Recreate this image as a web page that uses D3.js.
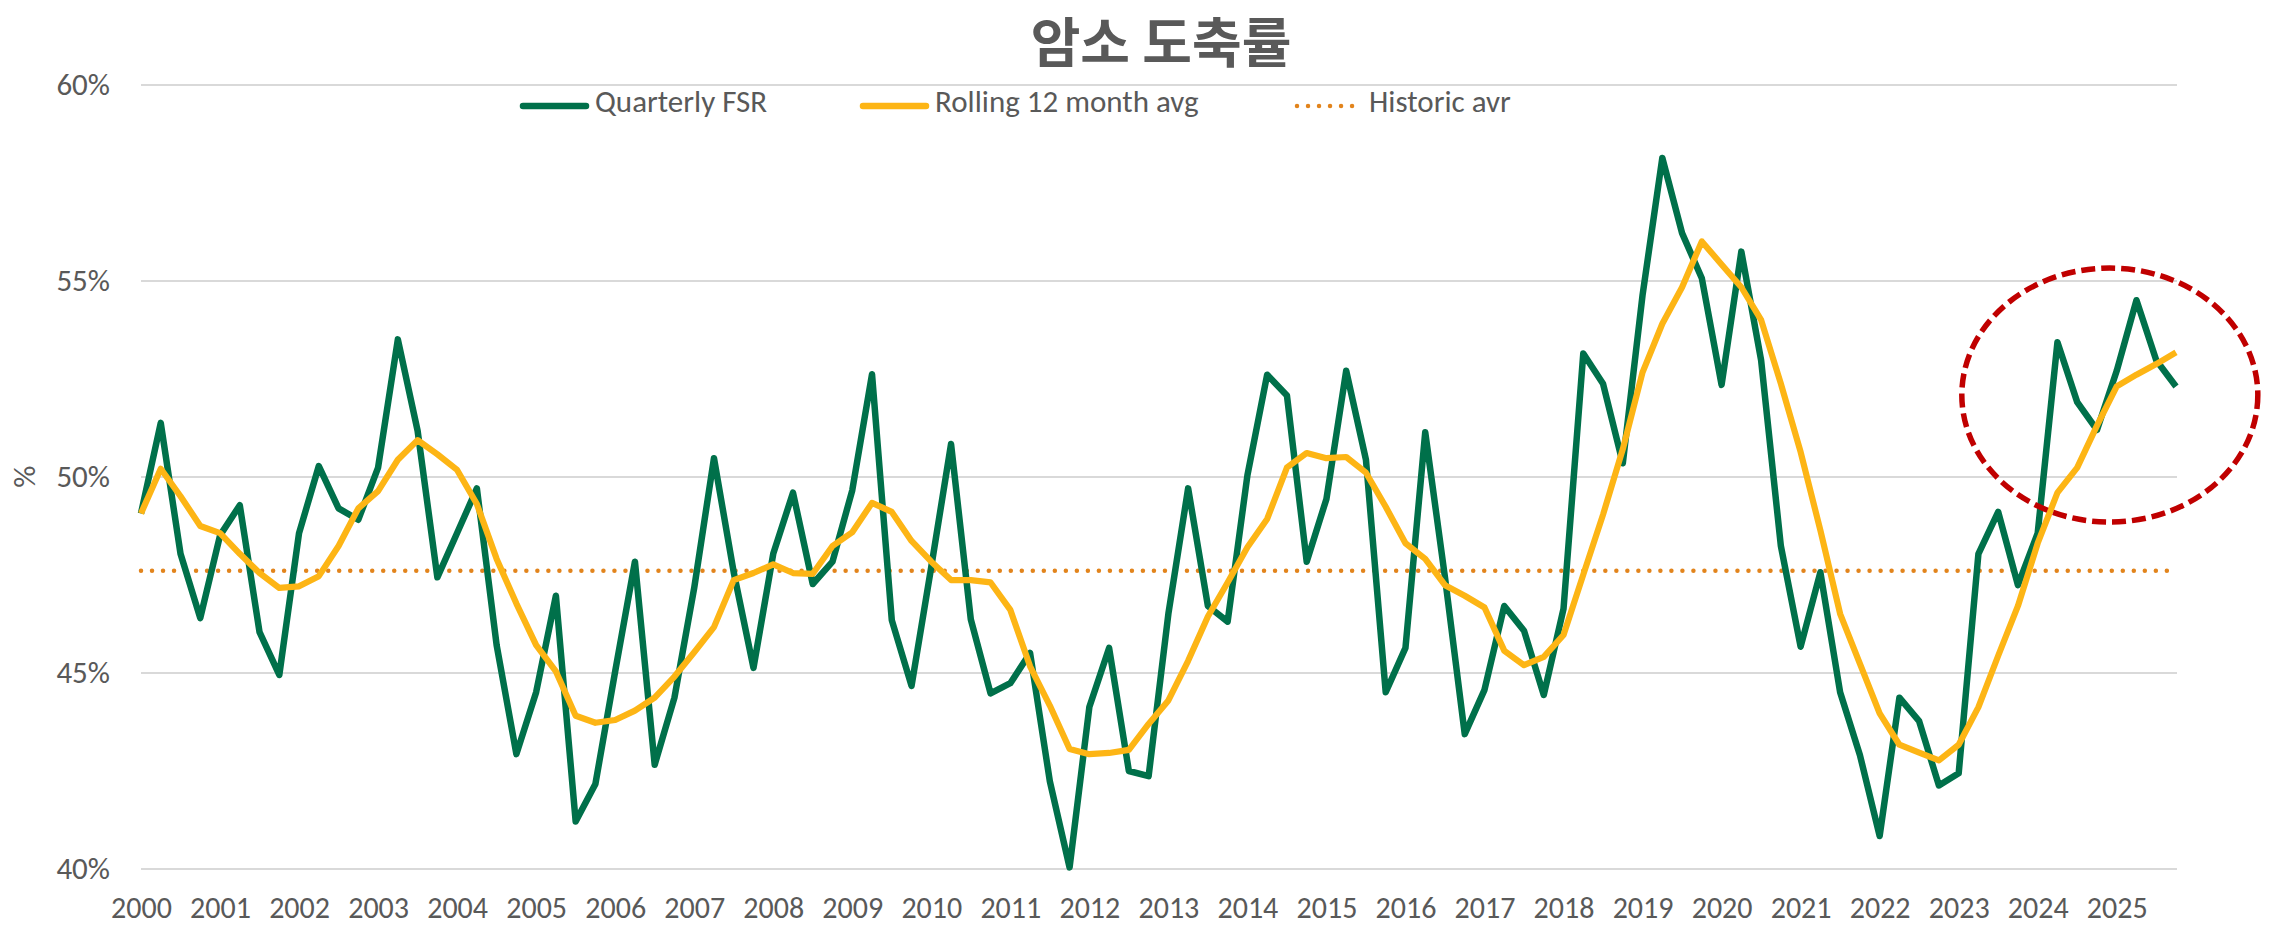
<!DOCTYPE html>
<html>
<head>
<meta charset="utf-8">
<script src="https://cdn.jsdelivr.net/npm/d3@7"></script>
<style>
  body { margin: 0; background: #fff; }
  .chart text { font-family: "Carlito", "Liberation Sans Narrow", "Open Sans", sans-serif; fill: #595959; }
  .chart .title { font-family: "Noto Sans CJK KR", sans-serif; font-weight: bold; }
  .axis path, .axis line { stroke: none; }
  .grid line { stroke: #d9d9d9; stroke-width: 2; }
</style>
</head>
<body>
<div class="chart"></div>
<script>
// data
var years = ["2000","2001","2002","2003","2004","2005","2006","2007","2008","2009","2010","2011","2012",
  "2013","2014","2015","2016","2017","2018","2019","2020","2021","2022","2023","2024","2025"];

// quarterly FSR, 2000 Q1 - 2025 Q4 (%)
var quarterly = [
  49.06, 51.37, 48.03, 46.39, 48.50, 49.27, 46.03, 44.94,
  48.56, 50.27, 49.19, 48.90, 50.23, 53.50, 51.17, 47.43,
  48.56, 49.70, 45.70, 42.92, 44.50, 46.96, 41.20, 42.16,
  45.03, 47.83, 42.65, 44.36, 47.16, 50.47, 47.56, 45.12,
  48.03, 49.59, 47.26, 47.83, 49.65, 52.61, 46.34, 44.66,
  47.70, 50.83, 46.36, 44.47, 44.73, 45.50, 42.23, 40.03,
  44.12, 45.63, 42.49, 42.36, 46.50, 49.70, 46.70, 46.30,
  50.03, 52.60, 52.07, 47.83, 49.43, 52.70, 50.43, 44.50,
  45.63, 51.13, 47.43, 43.43, 44.56, 46.70, 46.07, 44.43,
  46.63, 53.14, 52.37, 50.34, 54.63, 58.13, 56.21, 55.06,
  52.34, 55.74, 52.97, 48.23, 45.66, 47.56, 44.50, 42.90,
  40.83, 44.36, 43.76, 42.12, 42.43, 48.03, 49.10, 47.23,
  48.56, 53.43, 51.90, 51.19, 52.70, 54.50, 52.97, 52.30
];

// rolling 12 month average (%)
var rolling = [
  49.06, 50.20, 49.50, 48.74, 48.56, 48.03, 47.54, 47.16,
  47.20, 47.46, 48.23, 49.19, 49.63, 50.43, 50.93, 50.57,
  50.17, 49.30, 47.90, 46.76, 45.70, 45.03, 43.90, 43.72,
  43.79, 44.03, 44.36, 44.90, 45.52, 46.16, 47.36, 47.54,
  47.76, 47.54, 47.52, 48.23, 48.58, 49.33, 49.10, 48.36,
  47.83, 47.36, 47.36, 47.30, 46.60, 45.16, 44.16, 43.05,
  42.92, 42.95, 43.03, 43.69, 44.29, 45.30, 46.43, 47.30,
  48.20, 48.92, 50.23, 50.60, 50.47, 50.50, 50.10, 49.23,
  48.30, 47.90, 47.23, 46.96, 46.66, 45.56, 45.19, 45.40,
  45.96, 47.50, 49.03, 50.70, 52.66, 53.90, 54.83, 56.00,
  55.41, 54.83, 54.00, 52.37, 50.63, 48.63, 46.50, 45.23,
  43.96, 43.16, 42.96, 42.76, 43.16, 44.12, 45.43, 46.70,
  48.30, 49.59, 50.23, 51.30, 52.30, 52.60, 52.87, 53.17
];

var historicAvg = 47.6;
var yTicks = [40, 45, 50, 55, 60];
var seriesNames = ["Quarterly FSR", "Rolling 12 month avg", "Historic avr"];

// dimensions
var margin = {top: 84.6, right: 96, bottom: 57.4, left: 141};
var width = 2272 - margin.left - margin.right;
var height = 926 - margin.top - margin.bottom;

var green = "#00704a";
var gold = "#fdb515";
var dotted = "#e2841c";

// scales
var x = d3.scaleLinear()
  .domain([0, quarterly.length - 1])
  .range([0, width]);
var y = d3.scaleLinear()
  .domain([40, 60])
  .range([height, 0]);

var svg = d3.select(".chart")
  .append("svg")
  .attr("width", 2272)
  .attr("height", 926);

var chart = svg.append("g")
  .attr("transform", "translate(" + margin.left + "," + margin.top + ")");

// gridlines + y labels
chart.append("g")
  .attr("class", "axis grid")
  .call(d3.axisLeft(y)
    .tickValues(yTicks)
    .tickSize(-width - 1)
    .tickPadding(31)
    .tickFormat(function(d) { return d + "%"; }))
  .selectAll("text")
  .style("font-size", "31px")
  .attr("dy", "0.33em");

// x labels (one per year)
chart.append("g")
  .attr("class", "axis")
  .attr("transform", "translate(0," + height + ")")
  .call(d3.axisBottom(x)
    .tickValues(d3.range(0, quarterly.length, 4))
    .tickSize(0)
    .tickPadding(28)
    .tickFormat(function(d) { return years[d / 4]; }))
  .selectAll("text")
  .style("font-size", "30px");

// historic average
chart.append("line")
  .attr("x1", x(0))
  .attr("x2", x(quarterly.length - 1))
  .attr("y1", y(historicAvg))
  .attr("y2", y(historicAvg))
  .attr("stroke", dotted)
  .attr("stroke-width", 4.5)
  .attr("stroke-linecap", "round")
  .attr("stroke-dasharray", "0.01 11");

var line = d3.line()
  .x(function(d, i) { return x(i); })
  .y(function(d) { return y(d); });

chart.append("path")
  .datum(quarterly)
  .attr("fill", "none")
  .attr("stroke", green)
  .attr("stroke-width", 6.5)
  .attr("stroke-linejoin", "round")
  .attr("d", line);

chart.append("path")
  .datum(rolling)
  .attr("fill", "none")
  .attr("stroke", gold)
  .attr("stroke-width", 6.2)
  .attr("stroke-linejoin", "round")
  .attr("d", line);

// highlight ellipse
chart.append("ellipse")
  .attr("cx", x(99.65))
  .attr("cy", y(52.08))
  .attr("rx", 148)
  .attr("ry", 127)
  .attr("fill", "none")
  .attr("stroke", "#c00000")
  .attr("stroke-width", 5.5)
  .attr("stroke-dasharray", "14 6");

// y label
svg.append("text")
  .attr("transform", "translate(35," + (margin.top + y(50)) + ") rotate(-90)")
  .style("text-anchor", "middle")
  .style("font-size", "31px")
  .text("%");

// title
svg.append("text")
  .attr("class", "title")
  .attr("x", 1161)
  .attr("y", 63)
  .style("text-anchor", "middle")
  .style("font-size", "54px")
  .text("암소 도축률");

// legend
var legendItems = [
  {x: 520, color: green, dash: null},
  {x: 860, color: gold, dash: null},
  {x: 1294, color: dotted, dash: "0.01 11"}
];
legendItems.forEach(function(d, i) {
  svg.append("line")
    .attr("x1", d.x + 3)
    .attr("x2", d.x + 66)
    .attr("y1", 106)
    .attr("y2", 106)
    .attr("stroke", d.color)
    .attr("stroke-width", d.dash ? 4.5 : 6.5)
    .attr("stroke-linecap", "round")
    .attr("stroke-dasharray", d.dash);
  svg.append("text")
    .attr("x", d.x + 75)
    .attr("y", 112)
    .style("font-size", "31px")
    .text(seriesNames[i]);
});
</script>
</body>
</html>
